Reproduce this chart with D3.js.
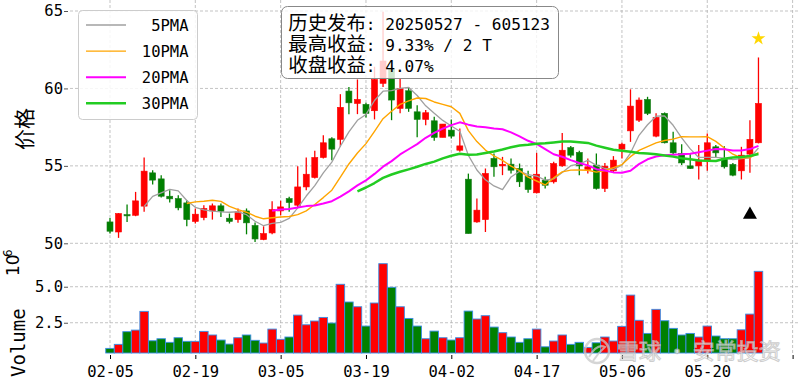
<!DOCTYPE html>
<html><head><meta charset="utf-8">
<script src="https://cdn.jsdelivr.net/npm/d3@7"></script>
<style>html,body{margin:0;padding:0;background:#fff;}svg{display:block;}</style>
</head><body>
<svg id="chart" width="800" height="380"></svg>
<script>
// ---------------- data ----------------
const dates = ["02-05","02-06","02-07","02-10","02-11","02-12","02-13","02-14","02-17","02-18",
"02-19","02-20","02-21","02-24","02-25","02-26","02-27","02-28","03-03","03-04",
"03-05","03-06","03-07","03-10","03-11","03-12","03-13","03-14","03-17","03-18",
"03-19","03-20","03-21","03-24","03-25","03-26","03-27","03-28","03-31","04-01",
"04-02","04-03","04-07","04-08","04-09","04-10","04-11","04-14","04-15","04-16",
"04-17","04-18","04-21","04-22","04-23","04-24","04-25","04-28","04-29","04-30",
"05-06","05-07","05-08","05-09","05-12","05-13","05-14","05-15","05-16","05-19",
"05-20","05-21","05-22","05-23","05-26","05-27","05-28"];
const opens = [51.38,50.73,51.85,51.81,52.40,54.55,54.16,53.04,52.89,52.61,
51.41,51.66,52.09,52.42,51.62,51.53,52.09,51.15,50.24,50.67,
52.09,52.89,52.46,53.64,54.25,55.54,56.75,56.71,59.83,59.03,
58.97,58.56,60.33,61.29,58.71,59.85,58.49,58.00,57.91,56.84,
57.31,56.01,54.14,51.38,51.53,55.48,55.00,55.11,54.83,54.33,
53.26,54.08,53.97,55.00,56.18,55.87,54.77,55.05,53.54,54.68,
56.08,57.26,57.95,59.29,56.92,58.39,56.49,55.80,55.00,55.00,
55.32,56.23,55.48,55.09,54.68,55.76,56.49];
const highs = [51.64,51.95,52.50,53.32,55.54,54.72,54.40,53.43,53.10,52.78,
52.25,52.46,52.57,52.57,51.92,52.25,52.25,51.34,51.10,52.72,
52.74,53.00,54.98,55.54,55.97,56.98,56.84,59.63,60.10,60.58,
59.07,61.40,64.95,61.50,60.65,60.07,58.92,58.60,58.17,57.70,
58.00,57.42,54.50,52.89,54.83,55.80,55.58,55.48,55.15,54.68,
55.84,54.29,55.26,57.13,56.29,55.97,55.48,55.80,55.19,55.63,
56.49,59.94,59.42,59.46,58.39,58.45,57.20,56.40,55.77,56.34,
57.09,56.34,56.27,55.19,56.23,57.95,62.00];
const lows = [50.63,50.35,51.38,51.75,52.03,53.80,52.96,52.63,52.14,51.10,
51.28,51.49,51.53,51.70,51.28,51.32,50.58,50.09,50.20,50.58,
51.81,52.03,52.35,53.43,54.19,55.48,55.37,56.23,58.34,58.34,
58.13,58.00,60.10,57.95,58.39,58.49,56.84,57.63,56.62,56.84,
56.77,55.91,50.63,51.32,50.73,54.29,54.40,54.51,53.64,53.26,
53.22,53.54,53.86,54.94,55.54,54.40,54.51,53.47,53.32,54.61,
55.48,56.55,57.84,58.28,56.84,56.45,55.76,55.05,54.80,54.12,
54.68,55.58,54.83,54.33,54.12,54.55,56.45];
const closes = [50.78,51.92,51.77,52.74,54.66,54.08,53.04,52.87,52.29,51.53,
51.88,52.25,52.42,52.07,51.41,52.03,51.32,50.28,50.63,52.18,
52.35,52.63,53.64,54.46,55.54,56.49,56.08,58.78,59.07,59.29,
58.39,60.58,61.77,59.25,60.00,58.71,58.00,58.43,56.84,57.70,
56.92,56.29,50.63,52.14,54.51,54.94,55.10,54.72,53.97,53.47,
54.46,53.75,55.15,56.01,55.69,55.00,54.94,53.54,54.98,55.37,
56.40,58.86,59.25,58.39,58.13,56.49,55.84,55.19,54.83,55.37,
56.49,55.84,54.94,54.40,55.69,56.71,59.03];
const volumes = [0.72,1.00,1.88,1.99,3.29,1.25,1.39,1.14,1.46,1.21,
1.21,1.90,1.65,1.30,1.02,1.46,1.65,1.28,1.09,2.06,
1.35,1.51,3.03,2.36,2.62,2.87,2.48,5.17,3.94,3.61,
2.27,3.87,6.60,4.96,3.61,2.80,2.27,1.39,1.92,1.46,
1.30,1.46,3.31,2.76,2.99,2.20,1.81,1.51,1.14,1.39,
2.06,0.83,1.23,1.65,1.00,1.14,0.79,1.11,1.51,1.23,
2.25,4.42,2.67,1.76,3.43,2.64,2.11,1.65,1.76,1.51,
2.27,1.58,1.39,1.39,2.01,3.10,6.07];
const maPeriods = [5, 10, 20, 30];
const maLabels = ["5PMA", "10PMA", "20PMA", "30PMA"];
const maColors = ["#a0a0a0", "#ffa500", "#ff00ff", "#22cc22"];
const maWidths = [1.3, 1.4, 2.0, 2.5];
const priceTicks = [50, 55, 60, 65];
const volTicks = [2.5, 5.0];
const volTickLabels = ["2.5", "5.0"];
const xTickIdx = [0, 10, 20, 30, 40, 50, 60, 70, 80];
const xTickLabels = ["02-05","02-19","03-05","03-19","04-02","04-17","05-06","05-20",""];
const signalIdx = 75, signalPrice = 51.85;
const starIdx = 76, starPrice = 63.22;
const annoLabels = ["历史发布", "最高收益", "收盘收益"];
const annoValues = [": 20250527 - 605123", ": 9.33% / 2 T", ": 4.07%"];

// ---------------- setup ----------------
const svg = d3.select("#chart");
const MONO = '"DejaVu Sans Mono", "Liberation Mono", monospace';
const CJK = '"Noto Sans CJK SC", sans-serif';
const x = d3.scaleLinear().domain([0, 80]).range([110, 792.6]);
const yP = d3.scaleLinear().domain([50, 65]).range([243.3, 11]);
const yV = d3.scaleLinear().domain([0.4, 7.3]).range([353, 253.6]);
const plotLeft = 70, plotRight = 800;
const up = i => closes[i] >= opens[i];
const RED = "#ff0000", GREEN = "#008000";

// grid
const grid = svg.append("g").attr("stroke", "#b4b4b4").attr("stroke-width", 0.8).attr("stroke-dasharray", "3,2");
priceTicks.forEach(t => grid.append("line").attr("x1", plotLeft).attr("x2", plotRight).attr("y1", yP(t)).attr("y2", yP(t)));
volTicks.forEach(t => grid.append("line").attr("x1", plotLeft).attr("x2", plotRight).attr("y1", yV(t)).attr("y2", yV(t)));
xTickIdx.forEach(t => grid.append("line").attr("x1", x(t)).attr("x2", x(t)).attr("y1", 0).attr("y2", 355));

// y axes
const yAxisP = d3.axisLeft(yP).tickValues(priceTicks).tickSize(4).tickFormat(d3.format("d"));
const gP = svg.append("g").attr("transform", `translate(${plotLeft - 2},0)`).call(yAxisP);
const yAxisV = d3.axisLeft(yV).tickValues(volTicks).tickSize(4).tickFormat((d, i) => volTickLabels[i]);
const gV = svg.append("g").attr("transform", `translate(${plotLeft - 2},0)`).call(yAxisV);
[gP, gV].forEach(g => {
  g.select(".domain").remove();
  g.selectAll(".tick line").attr("stroke", "#555");
  g.selectAll(".tick text").attr("font-family", MONO).attr("font-size", 15.5).attr("fill", "#000").attr("x", -5);
});
// x axis
const xAxis = d3.axisBottom(x).tickValues(xTickIdx).tickSize(4).tickFormat((d, i) => xTickLabels[i]);
const gX = svg.append("g").attr("transform", "translate(0,355)").call(xAxis);
gX.select(".domain").remove();
gX.selectAll(".tick line").attr("stroke", "#000");
gX.selectAll(".tick text").attr("font-family", MONO).attr("font-size", 15.5).attr("fill", "#000").attr("dy", "0.95em");

// axis labels
svg.append("text").attr("transform", "translate(32,129) rotate(-90)").attr("text-anchor", "middle")
  .attr("font-family", CJK).attr("font-size", 21).text("价格");
const vl = svg.append("text").attr("transform", "translate(25,377) rotate(-90)").attr("font-family", MONO).attr("font-size", 19);
vl.append("tspan").text("Volume");
svg.append("text").attr("transform", "translate(19,276) rotate(-90)").attr("font-family", '"DejaVu Sans", sans-serif').attr("font-size", 17).text("10");
svg.append("text").attr("transform", "translate(12,257) rotate(-90)").attr("font-family", '"DejaVu Sans", sans-serif').attr("font-size", 12).text("6");

// volume bars
const bw = 8.53;
svg.append("g").selectAll("rect").data(volumes).join("rect")
  .attr("x", (d, i) => x(i) - bw / 2).attr("width", bw)
  .attr("y", d => yV(d)).attr("height", d => yV(0.4) - yV(d))
  .attr("fill", (d, i) => up(i) ? RED : GREEN)
  .attr("stroke", "#3a8ee6").attr("stroke-width", 0.9);

// candles
const cw = 6;
const cg = svg.append("g");
cg.selectAll("line").data(closes).join("line")
  .attr("x1", (d, i) => x(i)).attr("x2", (d, i) => x(i))
  .attr("y1", (d, i) => yP(highs[i])).attr("y2", (d, i) => yP(lows[i]))
  .attr("stroke", (d, i) => up(i) ? RED : GREEN).attr("stroke-width", 1.3);
cg.selectAll("rect").data(closes).join("rect")
  .attr("x", (d, i) => x(i) - cw / 2).attr("width", cw)
  .attr("y", (d, i) => yP(Math.max(opens[i], closes[i])))
  .attr("height", (d, i) => Math.max(1, Math.abs(yP(opens[i]) - yP(closes[i]))))
  .attr("fill", (d, i) => up(i) ? RED : GREEN)
  .attr("stroke", (d, i) => up(i) ? RED : "#1a7a1a").attr("stroke-width", 0.6);

// moving averages (computed from closes, as the charting library does)
function rolling(n) {
  const out = [];
  for (let i = n - 1; i < closes.length; i++) {
    out.push([i, d3.mean(closes.slice(i - n + 1, i + 1))]);
  }
  return out;
}
const line = d3.line().x(d => x(d[0])).y(d => yP(d[1]));
maPeriods.forEach((n, k) => {
  svg.append("path").attr("d", line(rolling(n))).attr("fill", "none")
    .attr("stroke", maColors[k]).attr("stroke-width", maWidths[k]).attr("stroke-linejoin", "round");
});

// markers
svg.append("path").attr("d", d3.symbol(d3.symbolStar, 60)())
  .attr("transform", `translate(${x(starIdx)},${yP(starPrice)})`).attr("fill", "#ffd700");
svg.append("path").attr("d", d3.symbol(d3.symbolTriangle, 85)())
  .attr("transform", `translate(${x(signalIdx)},${yP(signalPrice)})`).attr("fill", "#000");

// legend
const lg = svg.append("g");
lg.append("rect").attr("x", 78.5).attr("y", 10.5).attr("width", 119).attr("height", 109).attr("rx", 4)
  .attr("fill", "#fff").attr("fill-opacity", 0.85).attr("stroke", "#cccccc");
maLabels.forEach((lab, k) => {
  const yy = 25 + k * 26.1;
  lg.append("line").attr("x1", 86).attr("x2", 126).attr("y1", yy).attr("y2", yy)
    .attr("stroke", maColors[k]).attr("stroke-width", maWidths[k]);
  lg.append("text").attr("x", 188.5).attr("y", yy + 5.5).attr("text-anchor", "end")
    .attr("font-family", MONO).attr("font-size", 15.5).text(lab);
});

// annotation box (one multi-line text block)
const ag = svg.append("g");
ag.append("rect").attr("x", 281.5).attr("y", 6.5).attr("width", 277).attr("height", 72).attr("rx", 6)
  .attr("fill", "#fff").attr("fill-opacity", 0.8).attr("stroke", "#888").attr("stroke-width", 1);
const at = ag.append("text").attr("x", 288.3).attr("y", 30).style("white-space", "pre");
annoLabels.forEach((lab, k) => {
  at.append("tspan").attr("x", 288.3).attr("dy", k === 0 ? 0 : 21.2)
    .attr("font-family", CJK).attr("font-size", 19.4).text(lab);
  at.append("tspan").attr("font-family", MONO).attr("font-size", 16.1).text(annoValues[k]);
});

// watermark
const wm = svg.append("g").attr("opacity", 0.75);
wm.append("circle").attr("cx", 597).attr("cy", 351).attr("r", 12).attr("fill", "none").attr("stroke", "#c8c8c8").attr("stroke-width", 2.5);
wm.append("path").attr("d", "M589,357 Q597,343 605,347 Q598,353 593,361").attr("fill", "none").attr("stroke", "#c8c8c8").attr("stroke-width", 2);
wm.append("text").attr("x", 617).attr("y", 359).attr("font-family", CJK).attr("font-size", 22)
  .attr("fill", "#ffffff").attr("stroke", "#bdbdbd").attr("stroke-width", 1).text("雪球 · 安常投资");
</script>
</body></html>
